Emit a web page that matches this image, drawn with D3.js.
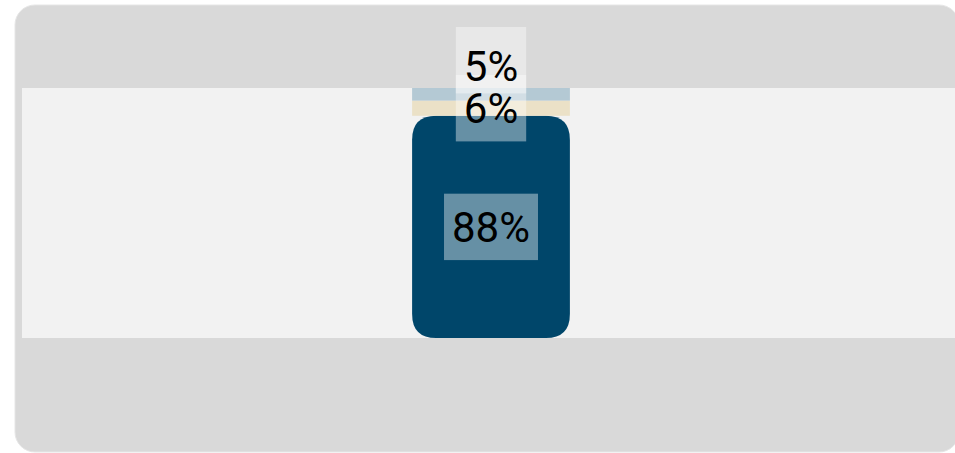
<!DOCTYPE html>
<html>
<head>
<meta charset="utf-8">
<script src="https://cdn.jsdelivr.net/npm/d3@7"></script>
<style>
  html, body { margin: 0; padding: 0; background: #ffffff; }
  svg { display: block; }
</style>
</head>
<body>
<svg id="chart" width="955" height="453"></svg>
<script>
// ---- data ----
const categories = ["Total"];
const seriesNames = ["Segment A", "Segment B", "Segment C"];
const seriesValues = [[88], [6], [5]];
const seriesColors = ["#00466a", "#ebe1c7", "#b4c9d4"];
const labelTexts = ["88%", "6%", "5%"];

// ---- layout ----
const card = { x: 15, y: 5, w: 944, h: 447, r: 20 };
const plot = { left: 22, right: 960, top: 88, bottom: 338 };

const svg = d3.select("#chart");

svg.append("rect")
  .attr("x", card.x).attr("y", card.y)
  .attr("width", card.w).attr("height", card.h)
  .attr("rx", card.r).attr("ry", card.r)
  .attr("fill", "#d9d9d9")
  .attr("stroke", "#e6e6e6").attr("stroke-width", 1);

svg.append("rect")
  .attr("x", plot.left).attr("y", plot.top)
  .attr("width", plot.right - plot.left).attr("height", plot.bottom - plot.top)
  .attr("fill", "#f2f2f2");

// build table for stack
const table = categories.map((c, i) => {
  const row = { category: c };
  seriesNames.forEach((s, j) => { row[s] = seriesValues[j][i]; });
  return row;
});
const stacked = d3.stack().keys(seriesNames)(table);
const total = d3.max(stacked[stacked.length - 1], d => d[1]);

const x = d3.scaleBand().domain(categories).range([plot.left, plot.right]).padding(0.712);
const y = d3.scaleLinear().domain([0, total]).range([plot.bottom, plot.top]);

function roundedRect(x0, y0, w, h, r) {
  const p = d3.path();
  p.moveTo(x0 + r, y0);
  p.lineTo(x0 + w - r, y0);
  p.quadraticCurveTo(x0 + w, y0, x0 + w, y0 + r);
  p.lineTo(x0 + w, y0 + h - r);
  p.quadraticCurveTo(x0 + w, y0 + h, x0 + w - r, y0 + h);
  p.lineTo(x0 + r, y0 + h);
  p.quadraticCurveTo(x0, y0 + h, x0, y0 + h - r);
  p.lineTo(x0, y0 + r);
  p.quadraticCurveTo(x0, y0, x0 + r, y0);
  p.closePath();
  return p.toString();
}

const barG = svg.append("g");
stacked.forEach((layer, li) => {
  layer.forEach(d => {
    const cat = d.data.category;
    const x0 = x(cat), bw = x.bandwidth();
    const y0 = y(d[1]), h = y(d[0]) - y(d[1]);
    if (li === 0) {
      barG.append("path")
        .attr("d", roundedRect(x0, y0, bw, h, 24))
        .attr("fill", seriesColors[li]);
    } else {
      barG.append("rect")
        .attr("x", x0).attr("y", y0).attr("width", bw).attr("height", h)
        .attr("fill", seriesColors[li]);
    }
  });
});

// labels
const fontSize = 42;
const capH = 0.711 * fontSize;
const padX = 8, padY = 8;
const boxH = fontSize * 1.2 + 2 * padY;
const boxGap = 48, textGap = 42;
const labelG = svg.append("g");
categories.forEach((cat, ci) => {
  const cx = x(cat) + x.bandwidth() / 2;
  let prevBox = null, prevText = null;
  stacked.forEach((layer, li) => {
    const d = layer[ci];
    const mid = (y(d[0]) + y(d[1])) / 2;
    let boxCy = mid, textCy = mid;
    if (prevBox !== null && prevBox - mid < boxGap) {
      boxCy = prevBox - boxGap;
      textCy = prevText - textGap;
    }
    prevBox = boxCy; prevText = textCy;
    const g = labelG.append("g");
    const rect = g.append("rect").attr("fill", "#ffffff").attr("fill-opacity", 0.4);
    const t = g.append("text")
      .attr("x", cx).attr("y", textCy + capH / 2)
      .attr("text-anchor", "middle")
      .attr("font-family", "Roboto, 'Noto Sans', sans-serif")
      .attr("font-size", fontSize)
      .attr("fill", "#000000")
      .text(labelTexts[li]);
    const tw = t.node().getComputedTextLength();
    rect.attr("x", cx - tw / 2 - padX).attr("y", boxCy - boxH / 2)
      .attr("width", tw + 2 * padX).attr("height", boxH);
  });
});
</script>
</body>
</html>
